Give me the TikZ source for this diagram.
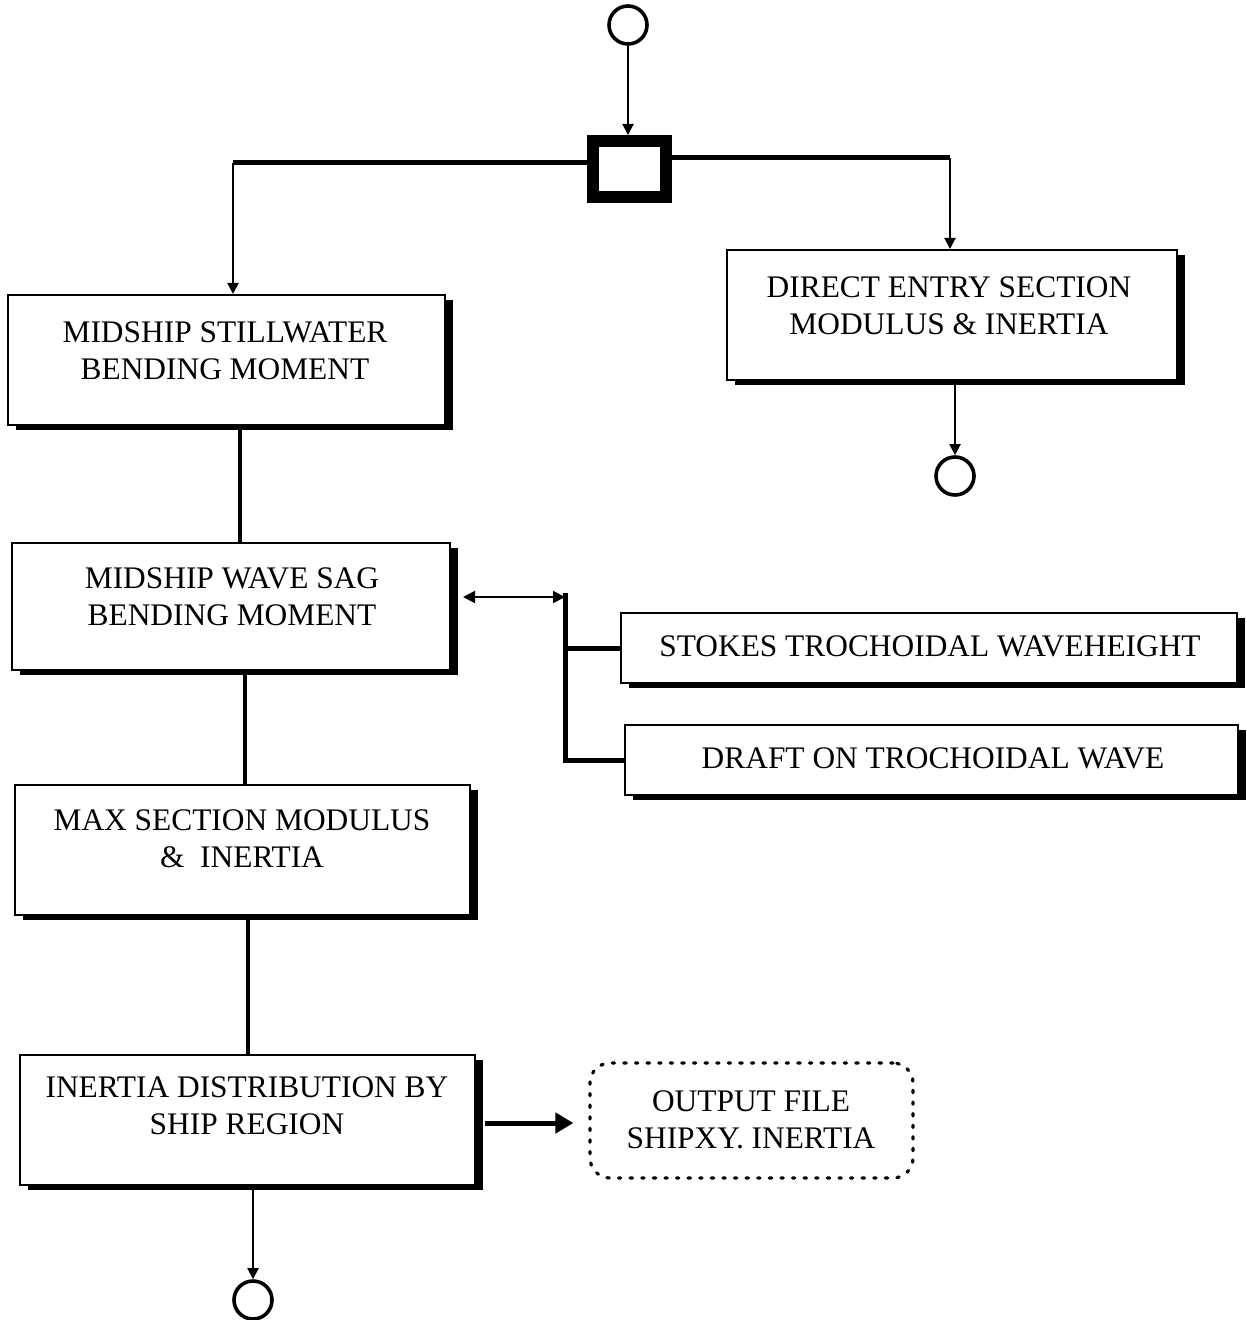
\documentclass[tikz,border=0pt]{standalone}
\usepackage{fontspec}
\setmainfont{Liberation Serif}
\usetikzlibrary{shadows,arrows.meta}
\begin{document}
\begin{tikzpicture}[x=0.5pt,y=-0.5pt,
  box/.style={draw=black, line width=1pt, fill=white, inner sep=0pt,
    drop shadow={shadow xshift=4pt,shadow yshift=-2.5pt,fill=black,opacity=1}},
  txt/.style={font=\fontsize{15.7pt}{18.5pt}\selectfont, align=center, inner sep=0pt},
  term/.style={circle, draw=black, line width=1.8pt, minimum size=19pt, inner sep=0pt},
  hub/.style={draw=black, line width=6pt, minimum width=36.5pt, minimum height=28pt, inner sep=0pt},
  outbox/.style={draw=black, line width=1.6pt, rounded corners=10pt, line cap=round,
    dash pattern=on 1.2pt off 4.6pt, inner sep=0pt},
  arr/.style={line width=1pt, -{Triangle[length=5.5pt,width=5.5pt]}},
  dblarr/.style={line width=1pt, {Triangle[length=6pt,width=6pt]}-{Triangle[length=6pt,width=6pt]}},
  hline/.style={line width=2.5pt},
  vline/.style={line width=1.8pt},
  bigarr/.style={line width=2.5pt, -{Triangle[length=9pt,width=10pt]}}
]
\useasboundingbox (0,0) rectangle (1246,1320);

% terminals and hub
\node[term] (c1) at (628,25) {};
\node[hub] (hub) at (629.5,169) {};
\node[term] (c2) at (955,476) {};
\node[term] (c3) at (253,1300) {};

% boxes
\node[box, minimum width=218.5pt, minimum height=65pt] (b1) at (226.5,360) {};
\node[box, minimum width=225pt, minimum height=65pt] (b2) at (952,315) {};
\node[box, minimum width=219pt, minimum height=63.5pt] (b3) at (231,606.5) {};
\node[box, minimum width=308pt, minimum height=35pt] (b4) at (929,648) {};
\node[box, minimum width=306.5pt, minimum height=35pt] (b5) at (931.5,760) {};
\node[box, minimum width=227.5pt, minimum height=65pt] (b6) at (242.5,850) {};
\node[box, minimum width=227.5pt, minimum height=65pt] (b7) at (247.5,1120) {};
\node[outbox, minimum width=161.5pt, minimum height=57.5pt] (b8) at (751.5,1120.5) {};

% texts
\node[txt] (t1) at (225,351) {MIDSHIP STILLWATER\\BENDING MOMENT};
\node[txt] (t2) at (949,306) {DIRECT ENTRY SECTION\\MODULUS \& INERTIA};
\node[txt] (t3) at (232,597) {MIDSHIP WAVE SAG\\BENDING MOMENT};
\node[txt] (t4) at (930,646) {STOKES TROCHOIDAL WAVEHEIGHT};
\node[txt] (t5) at (933,758) {DRAFT ON TROCHOIDAL WAVE};
\node[txt] (t6) at (242,839) {MAX SECTION MODULUS\\\&\ \ INERTIA};
\node[txt] (t7) at (247,1106) {INERTIA DISTRIBUTION BY\\SHIP REGION};
\node[txt] (t8) at (751,1120) {OUTPUT FILE\\SHIPXY. INERTIA};

% helper coordinates
\coordinate (cl) at (233,163);
\coordinate (cr) at (950,158);
\coordinate (xa) at (240,0);
\coordinate (xb) at (245,0);
\coordinate (xc) at (248,0);
\coordinate (ja) at (463,597);
\coordinate (jn) at (565,597);
\coordinate (jt) at (565,593);
\coordinate (ob) at (485,1123);

% connectors
\draw[arr] (c1.south) -- (c1.south |- hub.north);
\draw[hline] (hub.west |- cl) -- (cl);
\draw[arr] (cl) -- (cl |- b1.north);
\draw[hline] (hub.east |- cr) -- (cr);
\draw[arr] (cr) -- (cr |- b2.north);
\draw[arr] (b2.south -| c2) -- (c2.north);
\draw[vline] (b1.south -| xa) -- (b3.north -| xa);
\draw[vline] (b3.south -| xb) -- (b6.north -| xb);
\draw[vline] (b6.south -| xc) -- (b7.north -| xc);
\draw[arr] (b7.south -| c3) -- (c3.north);
\draw[dblarr] (ja) -- (jn);
\draw[hline] (jt) -- (jt |- b5.west) -- (b5.west);
\draw[hline] (jt |- b4.west) -- (b4.west);
\draw[bigarr, shorten >=7.5pt] (ob) -- (ob -| b8.west);
\end{tikzpicture}
\end{document}
